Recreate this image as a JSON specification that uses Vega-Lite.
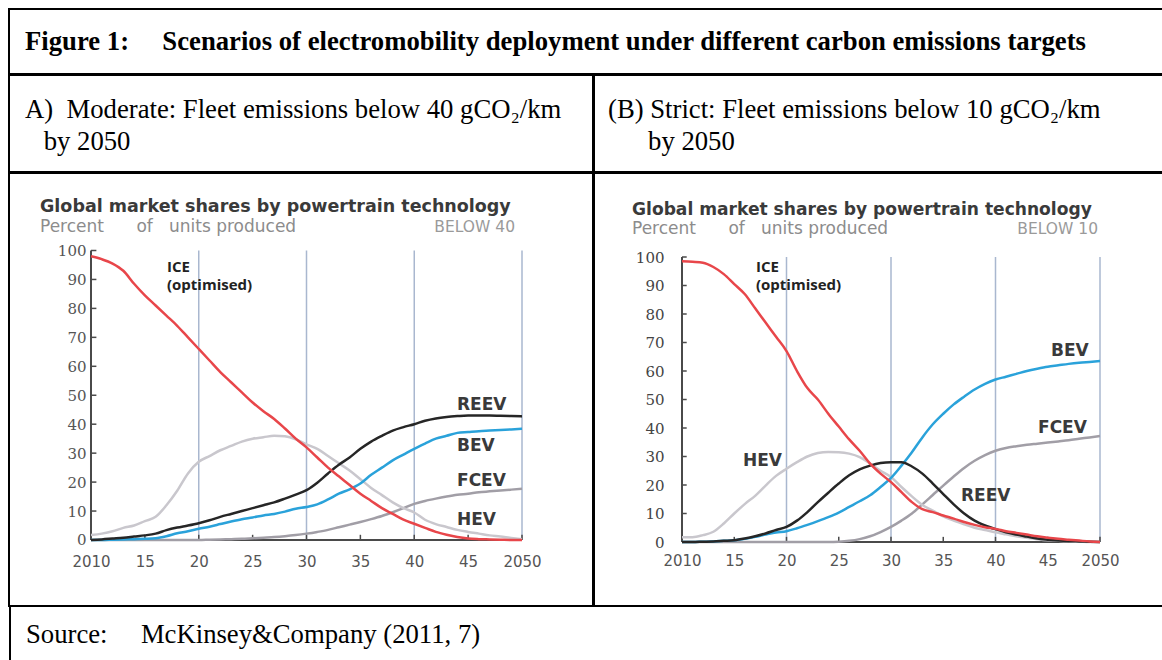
{
  "$schema": "https://vega.github.io/schema/vega-lite/v6.json",
  "padding": {"left": 8, "top": 8, "right": 0, "bottom": 0},
  "background": "white",
  "spacing": -2,
  "config": {
    "view": {"stroke": "black", "strokeWidth": 2, "fill": null}
  },
  "datasets": {
    "moderate": [
      {"year": 2010, "ICE": 98, "HEV": 1.7, "REEV": 0, "BEV": 0, "FCEV": 0},
      {"year": 2011, "ICE": 97, "HEV": 2.2, "REEV": 0.2, "BEV": 0, "FCEV": 0},
      {"year": 2012, "ICE": 95.5, "HEV": 3, "REEV": 0.5, "BEV": 0.1, "FCEV": 0},
      {"year": 2013, "ICE": 93, "HEV": 4.2, "REEV": 0.8, "BEV": 0.2, "FCEV": 0},
      {"year": 2014, "ICE": 88.5, "HEV": 5, "REEV": 1.2, "BEV": 0.3, "FCEV": 0},
      {"year": 2015, "ICE": 84.5, "HEV": 6.5, "REEV": 1.6, "BEV": 0.4, "FCEV": 0},
      {"year": 2016, "ICE": 81, "HEV": 8, "REEV": 2.2, "BEV": 0.6, "FCEV": 0},
      {"year": 2017, "ICE": 77.5, "HEV": 12, "REEV": 3.4, "BEV": 1.3, "FCEV": 0},
      {"year": 2018, "ICE": 74, "HEV": 17, "REEV": 4.3, "BEV": 2.3, "FCEV": 0},
      {"year": 2019, "ICE": 70, "HEV": 23, "REEV": 5, "BEV": 3, "FCEV": 0},
      {"year": 2020, "ICE": 66, "HEV": 27, "REEV": 5.8, "BEV": 3.9, "FCEV": 0},
      {"year": 2021, "ICE": 62, "HEV": 29, "REEV": 6.8, "BEV": 4.6, "FCEV": 0.1},
      {"year": 2022, "ICE": 58, "HEV": 31, "REEV": 8, "BEV": 5.5, "FCEV": 0.2},
      {"year": 2023, "ICE": 54.5, "HEV": 32.5, "REEV": 9, "BEV": 6.4, "FCEV": 0.3},
      {"year": 2024, "ICE": 51, "HEV": 34, "REEV": 10, "BEV": 7.2, "FCEV": 0.4},
      {"year": 2025, "ICE": 47.5, "HEV": 35, "REEV": 11, "BEV": 7.8, "FCEV": 0.6},
      {"year": 2026, "ICE": 44.5, "HEV": 35.5, "REEV": 12, "BEV": 8.5, "FCEV": 0.8},
      {"year": 2027, "ICE": 41.8, "HEV": 36, "REEV": 13, "BEV": 9, "FCEV": 1},
      {"year": 2028, "ICE": 38.5, "HEV": 35.8, "REEV": 14.3, "BEV": 9.8, "FCEV": 1.3},
      {"year": 2029, "ICE": 35, "HEV": 34.8, "REEV": 15.7, "BEV": 10.8, "FCEV": 1.7},
      {"year": 2030, "ICE": 32, "HEV": 33, "REEV": 17.2, "BEV": 11.4, "FCEV": 2.2},
      {"year": 2031, "ICE": 28.5, "HEV": 31.5, "REEV": 19.8, "BEV": 12.3, "FCEV": 2.8},
      {"year": 2032, "ICE": 25, "HEV": 29, "REEV": 23, "BEV": 14, "FCEV": 3.5},
      {"year": 2033, "ICE": 22, "HEV": 26.5, "REEV": 26, "BEV": 16, "FCEV": 4.4},
      {"year": 2034, "ICE": 19, "HEV": 24, "REEV": 28.5, "BEV": 17.5, "FCEV": 5.3},
      {"year": 2035, "ICE": 16, "HEV": 21, "REEV": 31.5, "BEV": 19.5, "FCEV": 6.2},
      {"year": 2036, "ICE": 13.5, "HEV": 18, "REEV": 34, "BEV": 22.5, "FCEV": 7.2},
      {"year": 2037, "ICE": 11, "HEV": 15.5, "REEV": 36, "BEV": 25, "FCEV": 8.3},
      {"year": 2038, "ICE": 9, "HEV": 13, "REEV": 37.8, "BEV": 27.5, "FCEV": 9.6},
      {"year": 2039, "ICE": 7, "HEV": 11, "REEV": 39, "BEV": 29.5, "FCEV": 11},
      {"year": 2040, "ICE": 5.6, "HEV": 9.5, "REEV": 40, "BEV": 31.5, "FCEV": 12.5},
      {"year": 2041, "ICE": 4.2, "HEV": 7, "REEV": 41.2, "BEV": 33.3, "FCEV": 13.5},
      {"year": 2042, "ICE": 2.8, "HEV": 5.5, "REEV": 42, "BEV": 35, "FCEV": 14.3},
      {"year": 2043, "ICE": 1.8, "HEV": 4.5, "REEV": 42.5, "BEV": 36, "FCEV": 15},
      {"year": 2044, "ICE": 1, "HEV": 3.5, "REEV": 42.8, "BEV": 37, "FCEV": 15.6},
      {"year": 2045, "ICE": 0.5, "HEV": 2.8, "REEV": 43, "BEV": 37.3, "FCEV": 16},
      {"year": 2046, "ICE": 0.3, "HEV": 2.2, "REEV": 43, "BEV": 37.6, "FCEV": 16.5},
      {"year": 2047, "ICE": 0.2, "HEV": 1.6, "REEV": 43, "BEV": 37.8, "FCEV": 16.8},
      {"year": 2048, "ICE": 0.1, "HEV": 1.2, "REEV": 42.9, "BEV": 38, "FCEV": 17.1},
      {"year": 2049, "ICE": 0, "HEV": 0.7, "REEV": 42.8, "BEV": 38.2, "FCEV": 17.4},
      {"year": 2050, "ICE": 0, "HEV": 0.3, "REEV": 42.7, "BEV": 38.4, "FCEV": 17.7}
    ],
    "strict": [
      {"year": 2010, "ICE": 98.5, "HEV": 1.7, "REEV": 0, "BEV": 0, "FCEV": 0},
      {"year": 2011, "ICE": 98.3, "HEV": 1.7, "REEV": 0, "BEV": 0, "FCEV": 0},
      {"year": 2012, "ICE": 98, "HEV": 2.4, "REEV": 0.1, "BEV": 0.1, "FCEV": 0},
      {"year": 2013, "ICE": 96.5, "HEV": 3.6, "REEV": 0.2, "BEV": 0.2, "FCEV": 0},
      {"year": 2014, "ICE": 94, "HEV": 6.5, "REEV": 0.4, "BEV": 0.4, "FCEV": 0},
      {"year": 2015, "ICE": 90.5, "HEV": 10, "REEV": 0.6, "BEV": 0.6, "FCEV": 0},
      {"year": 2016, "ICE": 87, "HEV": 13.3, "REEV": 1.2, "BEV": 1.1, "FCEV": 0},
      {"year": 2017, "ICE": 82, "HEV": 16.2, "REEV": 2, "BEV": 1.8, "FCEV": 0},
      {"year": 2018, "ICE": 77, "HEV": 19.8, "REEV": 3, "BEV": 2.6, "FCEV": 0},
      {"year": 2019, "ICE": 72, "HEV": 23.2, "REEV": 4.2, "BEV": 3.3, "FCEV": 0},
      {"year": 2020, "ICE": 67, "HEV": 25.7, "REEV": 5.3, "BEV": 3.8, "FCEV": 0},
      {"year": 2021, "ICE": 60, "HEV": 28, "REEV": 7.5, "BEV": 4.8, "FCEV": 0},
      {"year": 2022, "ICE": 54, "HEV": 30, "REEV": 10.5, "BEV": 6, "FCEV": 0},
      {"year": 2023, "ICE": 50, "HEV": 31.2, "REEV": 14, "BEV": 7.3, "FCEV": 0},
      {"year": 2024, "ICE": 45, "HEV": 31.6, "REEV": 17.3, "BEV": 8.7, "FCEV": 0},
      {"year": 2025, "ICE": 40.5, "HEV": 31.5, "REEV": 20.5, "BEV": 10.3, "FCEV": 0.1},
      {"year": 2026, "ICE": 36, "HEV": 31, "REEV": 23.4, "BEV": 12.3, "FCEV": 0.4},
      {"year": 2027, "ICE": 32, "HEV": 29.8, "REEV": 25.5, "BEV": 14.3, "FCEV": 1},
      {"year": 2028, "ICE": 27.5, "HEV": 27.5, "REEV": 26.8, "BEV": 16.4, "FCEV": 2},
      {"year": 2029, "ICE": 24, "HEV": 25, "REEV": 27.7, "BEV": 19.3, "FCEV": 3.5},
      {"year": 2030, "ICE": 21, "HEV": 22.8, "REEV": 28, "BEV": 22.5, "FCEV": 5.3},
      {"year": 2031, "ICE": 17.5, "HEV": 19.3, "REEV": 28, "BEV": 26.8, "FCEV": 7.5},
      {"year": 2032, "ICE": 14, "HEV": 16, "REEV": 26.5, "BEV": 31.5, "FCEV": 10},
      {"year": 2033, "ICE": 11.5, "HEV": 13, "REEV": 24, "BEV": 36.7, "FCEV": 13.2},
      {"year": 2034, "ICE": 10.5, "HEV": 11, "REEV": 20.5, "BEV": 41.3, "FCEV": 16.5},
      {"year": 2035, "ICE": 9.3, "HEV": 9, "REEV": 16.8, "BEV": 45, "FCEV": 19.8},
      {"year": 2036, "ICE": 8.2, "HEV": 7.5, "REEV": 13.2, "BEV": 48.3, "FCEV": 23},
      {"year": 2037, "ICE": 7, "HEV": 6.2, "REEV": 10, "BEV": 51, "FCEV": 26},
      {"year": 2038, "ICE": 6, "HEV": 5, "REEV": 7.5, "BEV": 53.5, "FCEV": 28.5},
      {"year": 2039, "ICE": 5.2, "HEV": 4.2, "REEV": 5.8, "BEV": 55.5, "FCEV": 30.5},
      {"year": 2040, "ICE": 4.6, "HEV": 3.4, "REEV": 4.5, "BEV": 57, "FCEV": 32},
      {"year": 2041, "ICE": 3.8, "HEV": 2.7, "REEV": 3.4, "BEV": 58, "FCEV": 33},
      {"year": 2042, "ICE": 3.2, "HEV": 2, "REEV": 2.6, "BEV": 59, "FCEV": 33.6},
      {"year": 2043, "ICE": 2.6, "HEV": 1.5, "REEV": 1.9, "BEV": 60, "FCEV": 34.1},
      {"year": 2044, "ICE": 2, "HEV": 1, "REEV": 1.2, "BEV": 60.8, "FCEV": 34.5},
      {"year": 2045, "ICE": 1.5, "HEV": 0.6, "REEV": 0.8, "BEV": 61.5, "FCEV": 34.9},
      {"year": 2046, "ICE": 1.1, "HEV": 0.4, "REEV": 0.5, "BEV": 62, "FCEV": 35.3},
      {"year": 2047, "ICE": 0.8, "HEV": 0.2, "REEV": 0.3, "BEV": 62.5, "FCEV": 35.7},
      {"year": 2048, "ICE": 0.5, "HEV": 0.1, "REEV": 0.2, "BEV": 62.9, "FCEV": 36.2},
      {"year": 2049, "ICE": 0.2, "HEV": 0, "REEV": 0.1, "BEV": 63.2, "FCEV": 36.7},
      {"year": 2050, "ICE": 0, "HEV": 0, "REEV": 0, "BEV": 63.5, "FCEV": 37.2}
    ]
  },
  "vconcat": [
    {
      "width": 1154,
      "height": 65,
      "view": {"stroke": "black", "strokeWidth": 2},
      "data": {"values": []},
      "mark": "rule",
      "encoding": {"x": {"field": "v", "type": "quantitative", "axis": null}},
      "title": {
        "text": "Figure 1:\u00a0\u00a0\u00a0\u00a0\u00a0Scenarios of electromobility deployment under different carbon emissions targets",
        "orient": "bottom", "anchor": "start", "frame": "group", "baseline": "alphabetic",
        "offset": -24, "dx": 16,
        "font": "Liberation Serif", "fontSize": 26.7, "fontWeight": "bold", "color": "black"
      }
    },
    {
      "spacing": -2,
      "hconcat": [
        {
          "width": 584,
          "height": 97,
          "view": {"stroke": "black", "strokeWidth": 2},
          "data": {"values": []},
          "mark": "rule",
          "encoding": {"x": {"field": "v", "type": "quantitative", "axis": null}},
          "title": {
            "text": ["A)\u00a0\u00a0Moderate: Fleet emissions below 40 gCO\u2082/km", "\u200b\u00a0\u00a0\u2009by 2050"],
            "orient": "bottom", "anchor": "start", "frame": "group", "baseline": "alphabetic",
            "offset": -54, "dx": 16, "lineHeight": 32,
            "font": "Liberation Serif", "fontSize": 26.7, "fontWeight": "normal", "color": "black"
          }
        },
        {
          "width": 570,
          "height": 97,
          "view": {"stroke": "black", "strokeWidth": 2},
          "data": {"values": []},
          "mark": "rule",
          "encoding": {"x": {"field": "v", "type": "quantitative", "axis": null}},
          "title": {
            "text": ["(B) Strict: Fleet emissions below 10 gCO\u2082/km", "\u200b\u00a0\u00a0\u00a0\u00a0\u00a0\u00a0by 2050"],
            "orient": "bottom", "anchor": "start", "frame": "group", "baseline": "alphabetic",
            "offset": -54, "dx": 14, "lineHeight": 32,
            "font": "Liberation Serif", "fontSize": 26.7, "fontWeight": "normal", "color": "black"
          }
        }
      ]
    },
    {
      "spacing": -2,
      "hconcat": [
        {
          "width": 584,
          "height": 433,
          "title": {
            "text": "Global market shares by powertrain technology",
            "subtitle": "Percent\u00a0\u00a0\u00a0\u00a0\u00a0\u00a0of\u00a0\u00a0\u00a0units produced",
            "orient": "bottom", "anchor": "start", "frame": "group", "baseline": "alphabetic",
            "offset": -394, "dx": 31,
            "font": "DejaVu Sans", "fontSize": 17.5, "fontWeight": "bold", "color": "#3a3a3a",
            "subtitleFont": "DejaVu Sans", "subtitleFontSize": 17, "subtitleColor": "#8c8c8c", "subtitlePadding": 2
          },
          "encoding": {
            "x": {
              "field": "year", "type": "quantitative",
              "scale": {"domain": [2002.39, 2056.589], "nice": false, "zero": false},
              "axis": {
                "values": [2010, 2015, 2020, 2025, 2030, 2035, 2040, 2045, 2050],
                "offset": -66, "domain": false, "grid": false, "ticks": false, "tickSize": 0, "title": null,
                "labelPadding": 14, "labelFont": "DejaVu Sans", "labelFontSize": 15, "labelColor": "#555555",
                "format": "d", "labelFlush": false, "labelOverlap": false,
                "labelExpr": "datum.value == 2010 || datum.value == 2050 ? datum.label : substring(datum.label, 2)"
              }
            },
            "y": {
              "field": "share", "type": "quantitative",
              "scale": {"domain": [-22.798, 126.77], "nice": false, "zero": false},
              "axis": {
                "values": [0, 10, 20, 30, 40, 50, 60, 70, 80, 90, 100],
                "offset": -82, "domain": false, "grid": false, "ticks": false, "tickSize": 0, "title": null,
                "labelPadding": 5, "labelFont": "DejaVu Serif", "labelFontSize": 15, "labelColor": "#555555",
                "labelFlush": false, "labelOverlap": false
              }
            }
          },
          "layer": [
            {
              "data": {"values": [{"year": 2020, "share": 0}, {"year": 2030, "share": 0}, {"year": 2040, "share": 0}, {"year": 2050, "share": 0}]},
              "mark": {"type": "rule", "color": "#a9b7cf", "strokeWidth": 1.5},
              "encoding": {"y2": {"datum": 100}}
            },
            {
              "data": {"values": [{"year": 2010, "share": 0}]},
              "mark": {"type": "rule", "color": "#4a4a4a", "strokeWidth": 2},
              "encoding": {"x2": {"datum": 2050}}
            },
            {
              "data": {"values": [{"year": 2010, "share": 0}]},
              "mark": {"type": "rule", "color": "#4a4a4a", "strokeWidth": 2},
              "encoding": {"y2": {"datum": 100}}
            },
            {
              "data": {"values": [
                {"year": 2015, "share": 0}, {"year": 2020, "share": 0}, {"year": 2025, "share": 0}, {"year": 2030, "share": 0},
                {"year": 2035, "share": 0}, {"year": 2040, "share": 0}, {"year": 2045, "share": 0}, {"year": 2050, "share": 0}
              ]},
              "mark": {"type": "rule", "color": "#4a4a4a", "strokeWidth": 1.5},
              "encoding": {"y2": {"datum": 1.8}}
            },
            {
              "data": {"values": [
                {"year": 2010, "share": 10}, {"year": 2010, "share": 20}, {"year": 2010, "share": 30}, {"year": 2010, "share": 40},
                {"year": 2010, "share": 50}, {"year": 2010, "share": 60}, {"year": 2010, "share": 70}, {"year": 2010, "share": 80},
                {"year": 2010, "share": 90}, {"year": 2010, "share": 100}
              ]},
              "mark": {"type": "rule", "color": "#4a4a4a", "strokeWidth": 1.5},
              "encoding": {"x2": {"datum": 2010.5}}
            },
            {
              "data": {"name": "moderate"},
              "transform": [{"fold": ["FCEV", "HEV", "BEV", "REEV", "ICE"], "as": ["tech", "share"]}],
              "mark": {"type": "line", "strokeWidth": 2.5, "interpolate": "monotone"},
              "encoding": {
                "color": {
                  "field": "tech", "type": "nominal",
                  "scale": {"domain": ["ICE", "HEV", "REEV", "BEV", "FCEV"], "range": ["#e8464a", "#c9c7cd", "#262626", "#2aa2da", "#a19ea6"]},
                  "legend": null
                }
              }
            },
            {
              "data": {"values": [{"label": "ICE\n(optimised)", "year": 2017.05, "share": 92.5}]},
              "mark": {"type": "text", "align": "left", "baseline": "alphabetic", "lineBreak": "\n", "lineHeight": 18, "font": "Open Sans", "fontWeight": "bold", "fontSize": 15, "color": "#222222"},
              "encoding": {"text": {"field": "label"}}
            },
            {
              "data": {"values": [
                {"label": "REEV", "year": 2043.97, "share": 46.5},
                {"label": "BEV", "year": 2043.97, "share": 32.6},
                {"label": "FCEV", "year": 2043.97, "share": 20.5},
                {"label": "HEV", "year": 2043.97, "share": 6.9}
              ]},
              "mark": {"type": "text", "align": "left", "baseline": "middle", "font": "DejaVu Sans", "fontWeight": "bold", "fontSize": 17, "color": "#3a3a3a"},
              "encoding": {"text": {"field": "label"}}
            },
            {
              "data": {"values": [{"label": "BELOW 40", "year": 2049.35, "share": 108.1}]},
              "mark": {"type": "text", "align": "right", "baseline": "middle", "font": "DejaVu Sans", "fontSize": 15.5, "color": "#9a9a9a"},
              "encoding": {"text": {"field": "label"}}
            }
          ]
        },
        {
          "width": 570,
          "height": 433,
          "title": {
            "text": "Global market shares by powertrain technology",
            "subtitle": "Percent\u00a0\u00a0\u00a0\u00a0\u00a0\u00a0of\u00a0\u00a0\u00a0units produced",
            "orient": "bottom", "anchor": "start", "frame": "group", "baseline": "alphabetic",
            "offset": -391, "dx": 38,
            "font": "DejaVu Sans", "fontSize": 17.1, "fontWeight": "bold", "color": "#3a3a3a",
            "subtitleFont": "DejaVu Sans", "subtitleFontSize": 17, "subtitleColor": "#8c8c8c", "subtitlePadding": 2
          },
          "encoding": {
            "x": {
              "field": "year", "type": "quantitative",
              "scale": {"domain": [2001.579, 2056.124], "nice": false, "zero": false},
              "axis": {
                "values": [2010, 2015, 2020, 2025, 2030, 2035, 2040, 2045, 2050],
                "offset": -64, "domain": false, "grid": false, "ticks": false, "tickSize": 0, "title": null,
                "labelPadding": 11, "labelFont": "DejaVu Sans", "labelFontSize": 15, "labelColor": "#555555",
                "format": "d", "labelFlush": false, "labelOverlap": false,
                "labelExpr": "datum.value == 2010 || datum.value == 2050 ? datum.label : substring(datum.label, 2)"
              }
            },
            "y": {
              "field": "share", "type": "quantitative",
              "scale": {"domain": [-22.456, 129.474], "nice": false, "zero": false},
              "axis": {
                "values": [0, 10, 20, 30, 40, 50, 60, 70, 80, 90, 100],
                "offset": -88, "domain": false, "grid": false, "ticks": false, "tickSize": 0, "title": null,
                "labelPadding": 18, "labelFont": "DejaVu Serif", "labelFontSize": 15, "labelColor": "#444444",
                "labelFlush": false, "labelOverlap": false
              }
            }
          },
          "layer": [
            {
              "data": {"values": [{"year": 2020, "share": 0}, {"year": 2030, "share": 0}, {"year": 2040, "share": 0}, {"year": 2050, "share": 0}]},
              "mark": {"type": "rule", "color": "#a9b7cf", "strokeWidth": 1.5},
              "encoding": {"y2": {"datum": 100}}
            },
            {
              "data": {"values": [{"year": 2010, "share": 0}]},
              "mark": {"type": "rule", "color": "#4a4a4a", "strokeWidth": 2},
              "encoding": {"x2": {"datum": 2050}}
            },
            {
              "data": {"values": [{"year": 2010, "share": 0}]},
              "mark": {"type": "rule", "color": "#4a4a4a", "strokeWidth": 2},
              "encoding": {"y2": {"datum": 100}}
            },
            {
              "data": {"values": [
                {"year": 2015, "share": 0}, {"year": 2020, "share": 0}, {"year": 2025, "share": 0}, {"year": 2030, "share": 0},
                {"year": 2035, "share": 0}, {"year": 2040, "share": 0}, {"year": 2045, "share": 0}, {"year": 2050, "share": 0}
              ]},
              "mark": {"type": "rule", "color": "#4a4a4a", "strokeWidth": 1.5},
              "encoding": {"y2": {"datum": 1.8}}
            },
            {
              "data": {"values": [
                {"year": 2010, "share": 10}, {"year": 2010, "share": 20}, {"year": 2010, "share": 30}, {"year": 2010, "share": 40},
                {"year": 2010, "share": 50}, {"year": 2010, "share": 60}, {"year": 2010, "share": 70}, {"year": 2010, "share": 80},
                {"year": 2010, "share": 90}, {"year": 2010, "share": 100}
              ]},
              "mark": {"type": "rule", "color": "#4a4a4a", "strokeWidth": 1.5},
              "encoding": {"x2": {"datum": 2010.45}}
            },
            {
              "data": {"name": "strict"},
              "transform": [{"fold": ["FCEV", "HEV", "BEV", "REEV", "ICE"], "as": ["tech", "share"]}],
              "mark": {"type": "line", "strokeWidth": 2.5, "interpolate": "monotone"},
              "encoding": {
                "color": {
                  "field": "tech", "type": "nominal",
                  "scale": {"domain": ["ICE", "HEV", "REEV", "BEV", "FCEV"], "range": ["#e8464a", "#c9c7cd", "#262626", "#2aa2da", "#a19ea6"]},
                  "legend": null
                }
              }
            },
            {
              "data": {"values": [{"label": "ICE\n(optimised)", "year": 2017.08, "share": 94.6}]},
              "mark": {"type": "text", "align": "left", "baseline": "alphabetic", "lineBreak": "\n", "lineHeight": 18, "font": "Open Sans", "fontWeight": "bold", "fontSize": 15, "color": "#222222"},
              "encoding": {"text": {"field": "label"}}
            },
            {
              "data": {"values": [
                {"label": "BEV", "year": 2045.31, "share": 67.0},
                {"label": "FCEV", "year": 2044.07, "share": 40.0},
                {"label": "REEV", "year": 2036.7, "share": 16.1},
                {"label": "HEV", "year": 2015.84, "share": 28.4}
              ]},
              "mark": {"type": "text", "align": "left", "baseline": "middle", "font": "DejaVu Sans", "fontWeight": "bold", "fontSize": 17, "color": "#3a3a3a"},
              "encoding": {"text": {"field": "label"}}
            },
            {
              "data": {"values": [{"label": "BELOW 10", "year": 2049.81, "share": 109.8}]},
              "mark": {"type": "text", "align": "right", "baseline": "middle", "font": "DejaVu Sans", "fontSize": 15.5, "color": "#9a9a9a"},
              "encoding": {"text": {"field": "label"}}
            }
          ]
        }
      ]
    },
    {
      "spacing": 0,
      "hconcat": [
        {
          "width": 2,
          "height": 57,
          "view": {"stroke": null, "fill": "black"},
          "data": {"values": []},
          "mark": "rule",
          "encoding": {"x": {"field": "v", "type": "quantitative", "axis": null}}
        },
        {
          "width": 1152,
          "height": 57,
          "view": {"stroke": null},
          "data": {"values": []},
          "mark": "rule",
          "encoding": {"x": {"field": "v", "type": "quantitative", "axis": null}},
          "title": {
            "text": "Source:\u00a0\u00a0\u00a0\u00a0\u00a0McKinsey&Company (2011, 7)",
            "orient": "bottom", "anchor": "start", "frame": "group", "baseline": "alphabetic",
            "offset": -21, "dx": 15,
            "font": "Liberation Serif", "fontSize": 26.7, "fontWeight": "normal", "color": "black"
          }
        }
      ]
    }
  ]
}
